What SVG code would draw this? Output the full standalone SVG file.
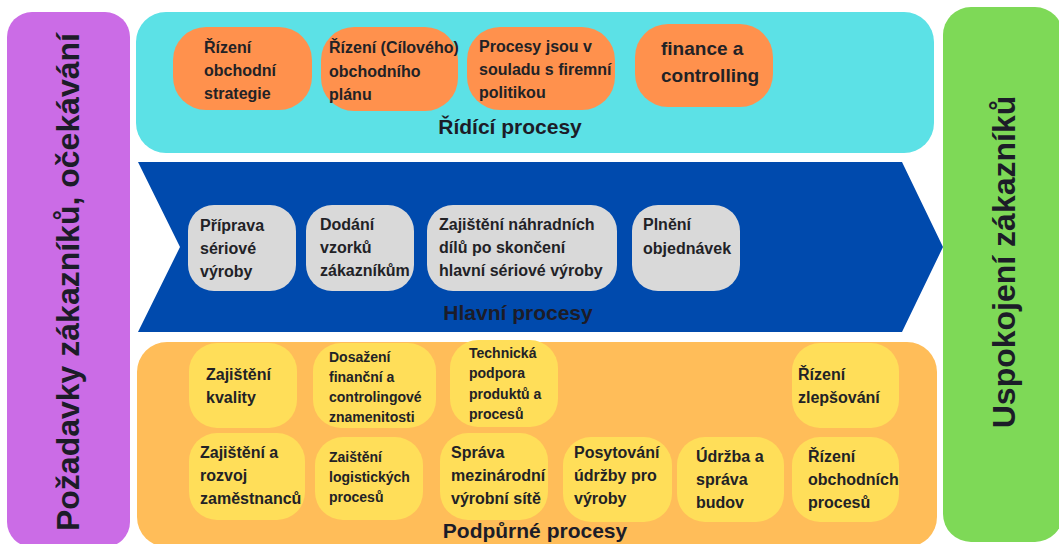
<svg xmlns="http://www.w3.org/2000/svg" width="1059" height="544" viewBox="0 0 1059 544">
<style>
text{font-family:"Liberation Sans",Arial,sans-serif;font-weight:bold;fill:#222226}
.t{font-size:16px}
.s{font-size:14px}
.f{font-size:19px}
.title{font-size:21px;text-anchor:middle;fill:#1c1c28}
.side{font-size:32px;text-anchor:middle;fill:#1c1c28}
.or{fill:#FF914D}
.gr{fill:#D9D9D9}
.ye{fill:#FFDE59}
</style>
<rect width="1059" height="544" fill="#ffffff"/>

<g id="customer-requirements">
<rect x="7" y="12" width="123" height="535" rx="25" fill="#CB6CE6"/>
<text class="side" transform="translate(79,282) rotate(-90)">Požadavky zákazníků, očekávání</text>
</g>

<g id="customer-satisfaction">
<rect x="943" y="7" width="120" height="535" rx="28" fill="#7ED957"/>
<text class="side" transform="translate(1015,262) rotate(-90)">Uspokojení zákazníků</text>
</g>

<g id="management-processes">
<rect x="136" y="12" width="798" height="141" rx="30" fill="#5CE1E6"/>
<text class="title" x="510" y="134">Řídící procesy</text>
</g>

<g id="main-processes">
<polygon points="138,162 902,162 943,247 902,332 138,332 180,247" fill="#004AAD"/>
<text class="title" x="518" y="320">Hlavní procesy</text>
</g>

<g id="support-processes">
<rect x="137" y="342" width="800" height="205" rx="30" fill="#FFBD59"/>
<text class="title" x="535" y="538">Podpůrné procesy</text>
</g>

<g id="m1"><rect class="or" x="173" y="27" width="139" height="83" rx="33"/>
<text class="t"><tspan x="204" y="53">Řízení</tspan><tspan x="204" y="76">obchodní</tspan><tspan x="204" y="99">strategie</tspan></text></g>
<g id="m2"><rect class="or" x="321" y="27" width="137" height="84" rx="33"/>
<text class="t"><tspan x="329" y="53">Řízení (Cílového)</tspan><tspan x="329" y="77">obchodního</tspan><tspan x="329" y="100">plánu</tspan></text></g>
<g id="m3"><rect class="or" x="467" y="27" width="148" height="83" rx="33"/>
<text class="t"><tspan x="479" y="52">Procesy jsou v</tspan><tspan x="479" y="75">souladu s firemní</tspan><tspan x="479" y="98">politikou</tspan></text></g>
<g id="m4"><rect class="or" x="635" y="24" width="138" height="83" rx="33"/>
<text class="f"><tspan x="661" y="55">finance a</tspan><tspan x="661" y="82">controlling</tspan></text></g>

<g id="h1"><rect class="gr" x="188" y="205" width="108" height="86" rx="26"/>
<text class="t"><tspan x="200" y="231">Příprava</tspan><tspan x="200" y="254">sériové</tspan><tspan x="200" y="277">výroby</tspan></text></g>
<g id="h2"><rect class="gr" x="306" y="205" width="108" height="86" rx="26"/>
<text class="t"><tspan x="320" y="230">Dodání</tspan><tspan x="320" y="253">vzorků</tspan><tspan x="320" y="276">zákazníkům</tspan></text></g>
<g id="h3"><rect class="gr" x="427" y="205" width="190" height="86" rx="26"/>
<text class="t"><tspan x="439" y="230">Zajištění náhradních</tspan><tspan x="439" y="253">dílů po skončení</tspan><tspan x="439" y="276">hlavní sériové výroby</tspan></text></g>
<g id="h4"><rect class="gr" x="632" y="205" width="108" height="86" rx="26"/>
<text class="t"><tspan x="643" y="230">Plnění</tspan><tspan x="643" y="254">objednávek</tspan></text></g>

<g id="p1"><rect class="ye" x="189" y="343" width="108" height="85" rx="28"/>
<text class="t"><tspan x="206" y="380">Zajištění</tspan><tspan x="206" y="403">kvality</tspan></text></g>
<g id="p2"><rect class="ye" x="313" y="343" width="123" height="85" rx="28"/>
<text class="s"><tspan x="329" y="362">Dosažení</tspan><tspan x="329" y="382">finanční a</tspan><tspan x="329" y="402">controlingové</tspan><tspan x="329" y="422">znamenitosti</tspan></text></g>
<g id="p3"><rect class="ye" x="450" y="340" width="108" height="87" rx="28"/>
<text class="s"><tspan x="469" y="358">Technická</tspan><tspan x="469" y="378">podpora</tspan><tspan x="469" y="399">produktů a</tspan><tspan x="469" y="419">procesů</tspan></text></g>
<g id="p4"><rect class="ye" x="792" y="343" width="107" height="85" rx="28"/>
<text class="t"><tspan x="798" y="380">Řízení</tspan><tspan x="798" y="403">zlepšování</tspan></text></g>
<g id="p5"><rect class="ye" x="189" y="433" width="116" height="87" rx="28"/>
<text class="t"><tspan x="200" y="458">Zajištění a</tspan><tspan x="200" y="481">rozvoj</tspan><tspan x="200" y="504">zaměstnanců</tspan></text></g>
<g id="p6"><rect class="ye" x="315" y="437" width="108" height="83" rx="28"/>
<text class="s"><tspan x="329" y="462">Zaištění</tspan><tspan x="329" y="482">logistických</tspan><tspan x="329" y="502">procesů</tspan></text></g>
<g id="p7"><rect class="ye" x="440" y="433" width="108" height="87" rx="28"/>
<text class="t"><tspan x="451" y="458">Správa</tspan><tspan x="451" y="481">mezinárodní</tspan><tspan x="451" y="504">výrobní sítě</tspan></text></g>
<g id="p8"><rect class="ye" x="563" y="437" width="109" height="85" rx="28"/>
<text class="t"><tspan x="574" y="458">Posytování</tspan><tspan x="574" y="481">údržby pro</tspan><tspan x="574" y="504">výroby</tspan></text></g>
<g id="p9"><rect class="ye" x="677" y="437" width="107" height="85" rx="28"/>
<text class="t"><tspan x="696" y="462">Údržba a</tspan><tspan x="696" y="485">správa</tspan><tspan x="696" y="508">budov</tspan></text></g>
<g id="p10"><rect class="ye" x="792" y="437" width="107" height="85" rx="28"/>
<text class="t"><tspan x="808" y="462">Řízení</tspan><tspan x="808" y="485">obchodních</tspan><tspan x="808" y="508">procesů</tspan></text></g>

<g id="connectors"/>
</svg>
